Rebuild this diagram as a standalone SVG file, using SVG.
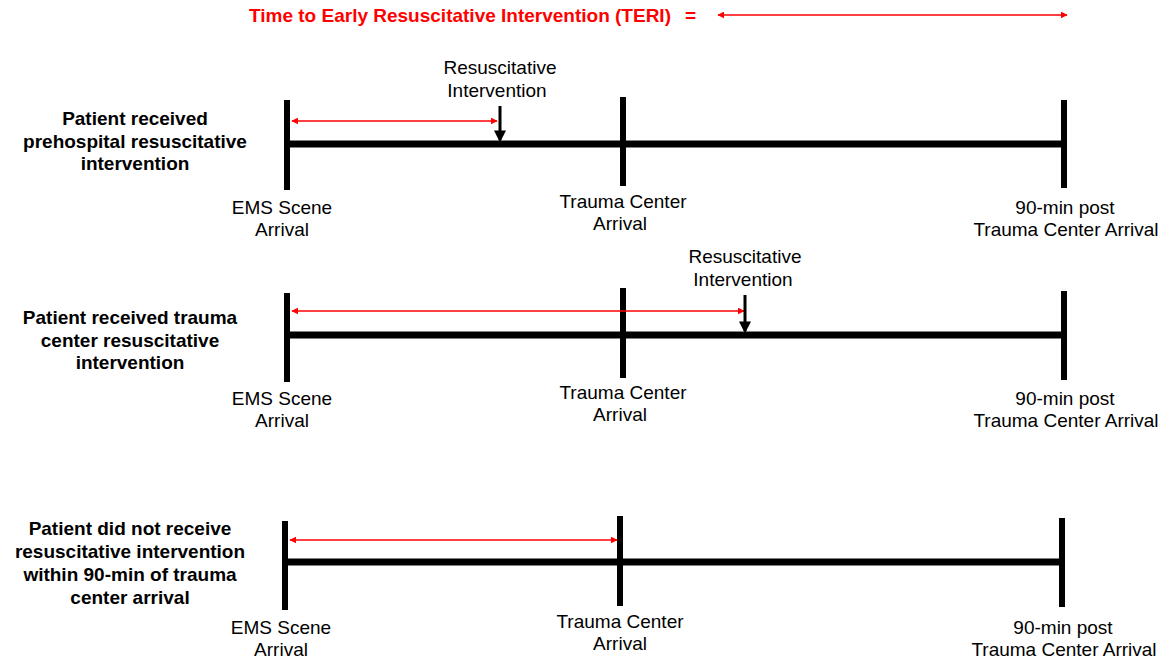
<svg xmlns="http://www.w3.org/2000/svg" width="1175" height="662" viewBox="0 0 1175 662">
<style>
.lbl{font-family:"Liberation Sans",Arial,sans-serif;font-size:19px;fill:#000;text-anchor:middle}
.bold{font-family:"Liberation Sans",Arial,sans-serif;font-size:19px;font-weight:bold;fill:#000;text-anchor:middle}
.title{font-family:"Liberation Sans",Arial,sans-serif;font-size:19px;font-weight:bold;fill:#ff0000}
.tick{stroke:#000;stroke-width:6}
.axis{stroke:#000;stroke-width:7}
.red{stroke:#ff0000;stroke-width:1.5;fill:none;marker-start:url(#rs);marker-end:url(#re)}
.down{stroke:#000;stroke-width:3;marker-end:url(#dk)}
</style>
<defs>
<marker id="re" viewBox="0 0 10 10" refX="9" refY="5" markerWidth="7" markerHeight="7" orient="auto" markerUnits="userSpaceOnUse"><path d="M0,0 L10,5 L0,10 z" fill="#ff0000"/></marker>
<marker id="rs" viewBox="0 0 10 10" refX="1" refY="5" markerWidth="7" markerHeight="7" orient="auto" markerUnits="userSpaceOnUse"><path d="M10,0 L0,5 L10,10 z" fill="#ff0000"/></marker>
<marker id="dk" viewBox="0 0 10 10" refX="8" refY="5" markerWidth="12" markerHeight="12" orient="auto" markerUnits="userSpaceOnUse"><path d="M0,0 L10,5 L0,10 z" fill="#000"/></marker>
</defs>
<rect width="1175" height="662" fill="#fff"/>
<g id="legend">
<text class="title" x="249" y="22">Time to Early Resuscitative Intervention (TERI)</text>
<text class="title" x="685" y="22">=</text>
<line class="red" x1="718" y1="15" x2="1067" y2="15"/>
</g>
<g id="row1">
<text class="bold" x="135" y="125">Patient received</text>
<text class="bold" x="135" y="148">prehospital resuscitative</text>
<text class="bold" x="135" y="170">intervention</text>
<line class="axis" x1="287" y1="144" x2="1064" y2="144"/>
<line class="tick" x1="287" y1="100" x2="287" y2="190"/>
<line class="tick" x1="623" y1="97" x2="623" y2="186"/>
<line class="tick" x1="1064" y1="100" x2="1064" y2="188"/>
<text class="lbl" x="500" y="74">Resuscitative</text>
<text class="lbl" x="497" y="97">Intervention</text>
<text class="lbl" x="282" y="214">EMS Scene</text>
<text class="lbl" x="282" y="236">Arrival</text>
<text class="lbl" x="623" y="208">Trauma  Center</text>
<text class="lbl" x="620" y="230">Arrival</text>
<text class="lbl" x="1065" y="214">90-min post</text>
<text class="lbl" x="1066" y="236">Trauma  Center Arrival</text>
</g>
<g id="row2">
<text class="bold" x="130" y="324">Patient received trauma</text>
<text class="bold" x="130" y="347">center resuscitative</text>
<text class="bold" x="130" y="369">intervention</text>
<line class="axis" x1="287" y1="335" x2="1064" y2="335"/>
<line class="tick" x1="287" y1="293" x2="287" y2="382"/>
<line class="tick" x1="623" y1="288" x2="623" y2="378"/>
<line class="tick" x1="1064" y1="291" x2="1064" y2="380"/>
<text class="lbl" x="745" y="263">Resuscitative</text>
<text class="lbl" x="743" y="286">Intervention</text>
<text class="lbl" x="282" y="405">EMS Scene</text>
<text class="lbl" x="282" y="427">Arrival</text>
<text class="lbl" x="623" y="399">Trauma  Center</text>
<text class="lbl" x="620" y="421">Arrival</text>
<text class="lbl" x="1065" y="405">90-min post</text>
<text class="lbl" x="1066" y="427">Trauma  Center Arrival</text>
</g>
<g id="row3">
<text class="bold" x="130" y="535">Patient did not receive</text>
<text class="bold" x="130" y="558">resuscitative intervention</text>
<text class="bold" x="130" y="581">within 90-min of trauma</text>
<text class="bold" x="130" y="604">center arrival</text>
<line class="axis" x1="285" y1="562" x2="1062" y2="562"/>
<line class="tick" x1="285" y1="521" x2="285" y2="610"/>
<line class="tick" x1="620" y1="516" x2="620" y2="606"/>
<line class="tick" x1="1062" y1="518" x2="1062" y2="607"/>
<text class="lbl" x="281" y="634">EMS Scene</text>
<text class="lbl" x="281" y="656">Arrival</text>
<text class="lbl" x="620" y="628">Trauma  Center</text>
<text class="lbl" x="620" y="650">Arrival</text>
<text class="lbl" x="1063" y="634">90-min post</text>
<text class="lbl" x="1064" y="656">Trauma  Center Arrival</text>
</g>
<g id="connectors">
<line class="red" x1="292" y1="121" x2="497" y2="121"/>
<line class="down" x1="500" y1="106" x2="500" y2="140"/>
<line class="red" x1="292" y1="311" x2="744" y2="311"/>
<line class="down" x1="745" y1="295" x2="745" y2="331"/>
<line class="red" x1="290" y1="540" x2="617" y2="540"/>
</g>
</svg>
